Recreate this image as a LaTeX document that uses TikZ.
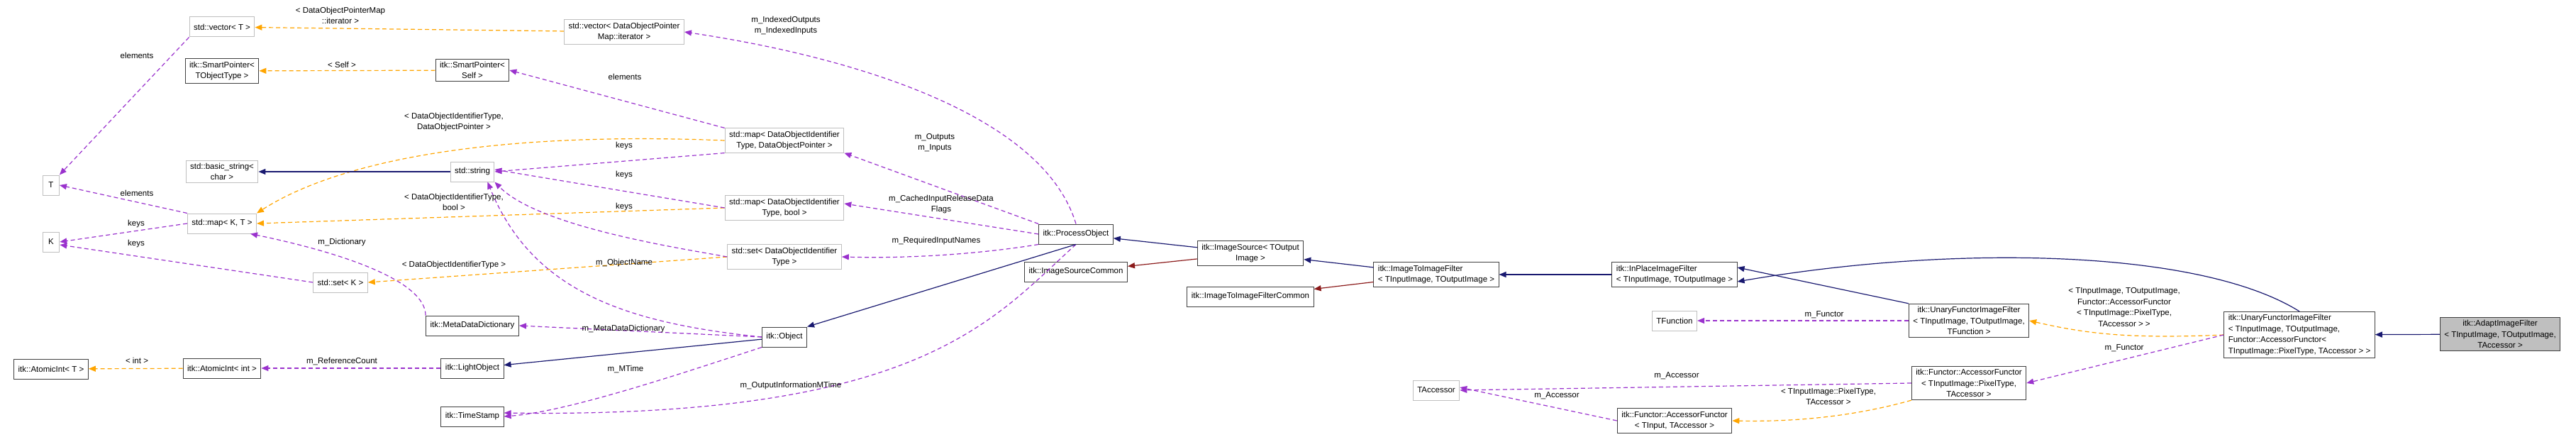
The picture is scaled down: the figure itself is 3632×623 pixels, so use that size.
\documentclass[tikz,border=0pt]{standalone}
\usepackage{fontspec}
\setmainfont{Liberation Sans}
\usetikzlibrary{arrows.meta}
\definecolor{inhcol}{RGB}{25,25,112}
\definecolor{privcol}{RGB}{139,26,26}
\definecolor{usecol}{RGB}{154,50,205}
\definecolor{tplcol}{RGB}{255,165,0}
\definecolor{grayline}{RGB}{191,191,191}
\tikzset{
  cls/.style={draw=black!75,line width=1pt,inner xsep=6pt,inner ysep=4pt,minimum height=28pt,align=center,font=\fontsize{11.5}{15.5}\selectfont},
  ext/.style={cls,draw=grayline},
  lbl/.style={align=center,inner sep=1pt,font=\fontsize{11.5}{15.5}\selectfont},
  tip/.style={-{Triangle[length=10pt,width=8pt,fill=#1]}},
  inh/.style={tip=inhcol,draw=inhcol,line width=1.2pt},
  priv/.style={tip=privcol,draw=privcol,line width=1.2pt},
  use/.style={tip=usecol,draw=usecol,line width=1.2pt,dash pattern=on 6pt off 4pt},
  tpl/.style={tip=tplcol,draw=tplcol,line width=1.2pt,dash pattern=on 6pt off 4pt}
}
\begin{document}
\begin{tikzpicture}[x=1pt,y=-1pt]
\useasboundingbox (0,0) rectangle (3632,623);
% classes
\node[ext] (vecT) at (313,38) {std::vector< T >};
\node[cls] (spTOT) at (313,100) {itk::SmartPointer<\\TObjectType >};
\node[ext] (T) at (72,261) {\,T\,};
\node[ext] (K) at (72,341) {\,K\,};
\node[ext] (bstr) at (313,242) {std::basic\_string<\\char >};
\node[ext] (mapKT) at (313,315) {std::map< K, T >};
\node[ext] (setK) at (480,398) {std::set< K >};
\node[cls] (aiT) at (72,520) {itk::AtomicInt< T >};
\node[cls] (aiInt) at (313,519) {itk::AtomicInt< int >};
\node[cls] (spSelf) at (666,99) {itk::SmartPointer<\\Self >};
\node[ext] (str) at (666,242) {std::string};
\node[cls] (mdd) at (666,459) {itk::MetaDataDictionary};
\node[cls] (light) at (666,519) {itk::LightObject};
\node[cls] (ts) at (666,587) {itk::TimeStamp};
\node[ext] (vecDOP) at (880,45) {std::vector< DataObjectPointer\\Map::iterator >};
\node[ext] (mapDOP) at (1106,198) {std::map< DataObjectIdentifier\\Type, DataObjectPointer >};
\node[ext] (mapBool) at (1106,293) {std::map< DataObjectIdentifier\\Type, bool >};
\node[ext] (setDOI) at (1106,362) {std::set< DataObjectIdentifier\\Type >};
\node[cls] (obj) at (1106,475) {itk::Object};
\node[cls] (proc) at (1517,330) {itk::ProcessObject};
\node[cls] (isc) at (1517,383) {itk::ImageSourceCommon};
\node[cls] (isrc) at (1763,357) {itk::ImageSource< TOutput\\Image >};
\node[cls] (itifc) at (1763,418) {itk::ImageToImageFilterCommon};
\node[cls,align=left] (itif) at (2025,387) {itk::ImageToImageFilter\\< TInputImage, TOutputImage >};
\node[cls,align=left] (inplace) at (2361,387) {itk::InPlaceImageFilter\\< TInputImage, TOutputImage >};
\node[ext] (tfunc) at (2361,452) {TFunction};
\node[ext] (tacc) at (2025,550) {TAccessor};
\node[cls] (afTI) at (2361,593) {itk::Functor::AccessorFunctor\\< TInput, TAccessor >};
\node[cls] (ufTF) at (2776,452) {itk::UnaryFunctorImageFilter\\< TInputImage, TOutputImage,\\TFunction >};
\node[cls] (afPix) at (2776,540) {itk::Functor::AccessorFunctor\\< TInputImage::PixelType,\\TAccessor >};
\node[cls,align=left] (ufAcc) at (3242,472) {itk::UnaryFunctorImageFilter\\< TInputImage, TOutputImage,\\Functor::AccessorFunctor<\\TInputImage::PixelType, TAccessor > >};
\node[cls,fill=grayline] (adapt) at (3525,471) {itk::AdaptImageFilter\\< TInputImage, TOutputImage,\\TAccessor >};
% template instances
\draw[tpl] (vecDOP) -- (vecT);
\draw[tpl] (spSelf) -- (spTOT);
\draw[tpl] (mapDOP.west) .. controls (700,185) and (480,225) .. (mapKT.north east);
\draw[tpl] (mapBool.west) -- (mapKT.east);
\draw[tpl] (setDOI.west) -- (setK.east);
\draw[tpl] (aiInt) -- (aiT);
\draw[tpl] (ufAcc.west) .. controls (3000,478) and (2940,470) .. (ufTF.east);
\draw[tpl] (afPix.south west) .. controls (2620,585) and (2540,595) .. (afTI.east);
% usage
\draw[use] (vecT.south west) -- (T.north east);
\draw[use] (mapKT.north west) -- (T.east);
\draw[use] (mapKT.west) -- (K.east);
\draw[use] (setK.west) -- ([yshift=-4pt]K.east);
\draw[use] (mapDOP.north west) -- (spSelf.east);
\draw[use] (mapDOP.south west) -- (str.east);
\draw[use] (mapBool.west) -- ([yshift=3pt]str.east);
\draw[use] (setDOI.west) .. controls (960,350) and (760,320) .. (str.south east);
\draw[use] (obj.west) .. controls (880,455) and (750,410) .. ([xshift=-10pt]str.south east);
\draw[use] (mdd.north west) .. controls (600,400) and (500,360) .. ([xshift=40pt]mapKT.south);
\draw[use] (obj.west) -- (mdd.east);
\draw[use] (obj.south west) .. controls (950,530) and (800,580) .. (ts.east);
\draw[use] (light) -- (aiInt);
\draw[use] (proc.north) .. controls (1470,160) and (1200,80) .. (vecDOP.east);
\draw[use] (proc.north west) -- (mapDOP.south east);
\draw[use] (proc.west) -- ([yshift=6pt]mapBool.east);
\draw[use] (proc.south west) .. controls (1400,355) and (1300,365) .. (setDOI.east);
\draw[use] (proc.south) .. controls (1400,450) and (1300,590) .. ([yshift=5pt]ts.east);
\draw[use] (ufTF.west) -- (tfunc.east);
\draw[use] (ufAcc.west) -- (afPix.east);
\draw[use] (afPix.west) -- (tacc.east);
\draw[use] (afTI.west) -- ([yshift=4pt]tacc.east);
% inheritance
\draw[inh] (str) -- (bstr);
\draw[inh] (obj) -- (light);
\draw[inh] (proc.south) -- (obj.north east);
\draw[inh] (isrc) -- (proc);
\draw[priv] (isrc) -- (isc);
\draw[inh] (itif) -- (isrc);
\draw[priv] (itif) -- (itifc);
\draw[inh] (inplace) -- (itif);
\draw[inh] (ufTF.north west) -- ([yshift=10pt]inplace.east);
\draw[inh] (ufAcc.north) .. controls (3100,350) and (2750,345) .. ([yshift=-10pt]inplace.east);
\draw[inh] (adapt) -- (ufAcc);
% labels
\node[lbl] (l1) at (480,22) {< DataObjectPointerMap\\::iterator >};
\node[lbl] (l2) at (482,91) {< Self >};
\node[lbl] (l3) at (640,172) {< DataObjectIdentifierType,\\DataObjectPointer >};
\node[lbl] (l4) at (640,285) {< DataObjectIdentifierType,\\bool >};
\node[lbl] (l5) at (640,374) {< DataObjectIdentifierType >};
\node[lbl] (l6) at (193,78) {elements};
\node[lbl] (l7) at (193,272) {elements};
\node[lbl] (l8) at (192,316) {keys};
\node[lbl] (l9) at (192,344) {keys};
\node[lbl] (l10) at (881,108) {elements};
\node[lbl] (l11) at (880,206) {keys};
\node[lbl] (l12) at (880,247) {keys};
\node[lbl] (l13) at (880,292) {keys};
\node[lbl] (l14) at (880,371) {m\_ObjectName};
\node[lbl] (l15) at (482,342) {m\_Dictionary};
\node[lbl] (l16) at (879,464) {m\_MetaDataDictionary};
\node[lbl] (l17) at (882,520) {m\_MTime};
\node[lbl] (l18) at (482,509) {m\_ReferenceCount};
\node[lbl] (l19) at (193,508) {< int >};
\node[lbl] (l20) at (1108,36) {m\_IndexedOutputs\\m\_IndexedInputs};
\node[lbl] (l21) at (1318,201) {m\_Outputs\\m\_Inputs};
\node[lbl] (l22) at (1327,288) {m\_CachedInputReleaseData\\Flags};
\node[lbl] (l23) at (1320,340) {m\_RequiredInputNames};
\node[lbl] (l24) at (1115,544) {m\_OutputInformationMTime};
\node[lbl] (l25) at (2572,444) {m\_Functor};
\node[lbl] (l26) at (2995,433) {< TInputImage, TOutputImage,\\Functor::AccessorFunctor\\< TInputImage::PixelType,\\TAccessor > >};
\node[lbl] (l27) at (2995,491) {m\_Functor};
\node[lbl] (l28) at (2364,530) {m\_Accessor};
\node[lbl] (l29) at (2195,558) {m\_Accessor};
\node[lbl] (l30) at (2578,559) {< TInputImage::PixelType,\\TAccessor >};
\end{tikzpicture}
\end{document}
